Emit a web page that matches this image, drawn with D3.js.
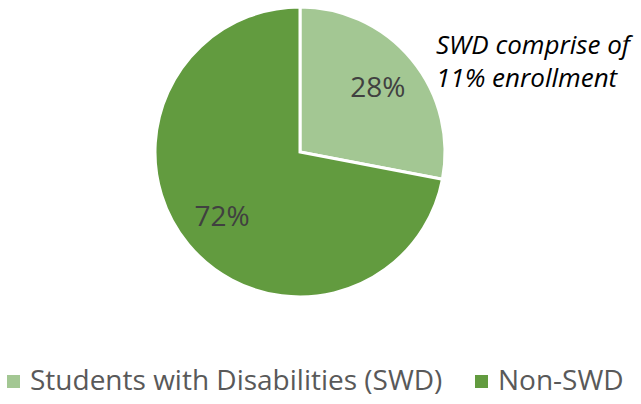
<!DOCTYPE html>
<html><head><meta charset="utf-8">
<script src="https://cdn.jsdelivr.net/npm/d3@7"></script>
<style>body{margin:0;background:#fff}svg{display:block}text{font-family:"Open Sans",sans-serif}</style>
</head><body><svg id="c" width="641" height="404"></svg>
<script>
const categories = ["Students with Disabilities (SWD)", "Non-SWD"];
const values = [28, 72];
const labels = ["28%", "72%"];
const colors = ["#A3C793", "#629B3F"];
const note = ["SWD comprise of", "11% enrollment"];

const svg = d3.select("#c");
const cx = 300, cy = 152, R = 145;
const pie = d3.pie().sort(null).value(d => d)(values);
const arc = d3.arc().innerRadius(0).outerRadius(R);
const lab = d3.arc().innerRadius(101).outerRadius(101);
const g = svg.append("g").attr("transform", `translate(${cx},${cy})`);
g.selectAll("path").data(pie).join("path")
  .attr("d", arc).attr("fill", (d,i) => colors[i])
  .attr("stroke", "#fff").attr("stroke-width", 3).attr("stroke-linejoin","miter");
g.selectAll("text.l").data(pie).join("text").attr("class","l")
  .attr("transform", d => `translate(${lab.centroid(d)})`)
  .attr("text-anchor","middle").attr("dy","0.35em")
  .attr("font-size", 28).attr("fill","#404040")
  .text((d,i) => labels[i]);

svg.selectAll("text.n").data(note).join("text").attr("class","n")
  .attr("x", 436).attr("y", (d,i) => 54 + i*33)
  .attr("font-size", 26).attr("font-style","italic").attr("fill","#000")
  .text(d => d);

const lx = [7, 475];
const lg = svg.selectAll("g.lg").data(categories).join("g").attr("class","lg")
  .attr("transform", (d,i) => `translate(${lx[i]},375)`);
lg.append("rect").attr("width",13).attr("height",13).attr("fill",(d,i)=>colors[i]);
lg.append("text").attr("x",23).attr("y",15).attr("font-size",28).attr("fill","#595959").text(d=>d);
</script></body></html>
